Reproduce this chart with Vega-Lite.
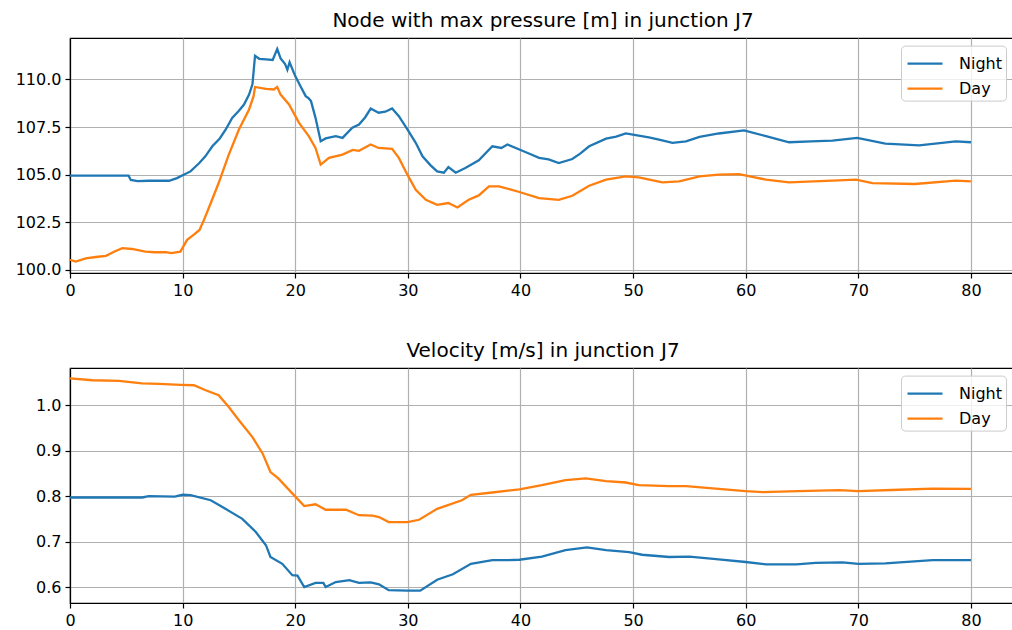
{
  "$schema": "https://vega.github.io/schema/vega-lite/v6.json",
  "padding": {"left": 14, "top": 10, "right": 0, "bottom": 0},
  "background": "white",
  "config": {
    "font": "DejaVu Sans",
    "view": {"stroke": "black", "strokeWidth": 1.2},
    "axis": {
      "grid": true, "gridColor": "#b0b0b0", "gridWidth": 1.2,
      "domainColor": "black", "domainWidth": 1.2,
      "tickColor": "black", "tickSize": 5, "tickWidth": 1.2,
      "labelColor": "black", "labelFont": "DejaVu Sans", "labelFontSize": 16,
      "labelPadding": 4, "labelFlush": false, "labelOverlap": false, "labelBound": false,
      "title": null
    },
    "title": {"font": "DejaVu Sans", "fontSize": 20, "fontWeight": "normal", "color": "black", "anchor": "middle", "offset": 7},
    "legend": {
      "fillColor": "rgba(255,255,255,0.8)", "strokeColor": "#cccccc", "cornerRadius": 4,
      "padding": 4, "symbolType": "M-1.4,0H1.4", "symbolSize": 625, "symbolStrokeWidth": 2.5,
      "symbolOffset": 6,
      "labelFont": "DejaVu Sans", "labelFontSize": 16, "labelColor": "black", "labelOffset": 20,
      "rowPadding": 3, "title": null
    },
    "line": {"strokeWidth": 2.3}
  },
  "datasets": {
    "pressure": [
      {"t":0,"series":"Night","v":104.95},{"t":5.2,"series":"Night","v":104.95},{"t":5.4,"series":"Night","v":104.72},{"t":6.0,"series":"Night","v":104.66},{"t":7.0,"series":"Night","v":104.68},{"t":8.0,"series":"Night","v":104.68},{"t":8.8,"series":"Night","v":104.68},{"t":9.5,"series":"Night","v":104.82},{"t":10.0,"series":"Night","v":104.97},{"t":10.7,"series":"Night","v":105.17},{"t":11.46,"series":"Night","v":105.6},{"t":12.0,"series":"Night","v":105.95},{"t":12.64,"series":"Night","v":106.49},{"t":13.3,"series":"Night","v":106.9},{"t":13.83,"series":"Night","v":107.37},{"t":14.4,"series":"Night","v":107.98},{"t":15.0,"series":"Night","v":108.35},{"t":15.45,"series":"Night","v":108.68},{"t":15.9,"series":"Night","v":109.2},{"t":16.2,"series":"Night","v":109.74},{"t":16.43,"series":"Night","v":111.23},{"t":16.8,"series":"Night","v":111.08},{"t":17.4,"series":"Night","v":111.05},{"t":18.0,"series":"Night","v":111.02},{"t":18.4,"series":"Night","v":111.6},{"t":18.7,"series":"Night","v":111.1},{"t":19.1,"series":"Night","v":110.8},{"t":19.3,"series":"Night","v":110.5},{"t":19.5,"series":"Night","v":110.9},{"t":20.0,"series":"Night","v":110.17},{"t":20.5,"series":"Night","v":109.6},{"t":20.93,"series":"Night","v":109.12},{"t":21.2,"series":"Night","v":109.0},{"t":21.4,"series":"Night","v":108.86},{"t":21.8,"series":"Night","v":107.98},{"t":22.26,"series":"Night","v":106.75},{"t":22.7,"series":"Night","v":106.9},{"t":23.6,"series":"Night","v":107.02},{"t":24.2,"series":"Night","v":106.93},{"t":25.07,"series":"Night","v":107.46},{"t":25.66,"series":"Night","v":107.63},{"t":26.2,"series":"Night","v":108.0},{"t":26.7,"series":"Night","v":108.47},{"t":27.4,"series":"Night","v":108.25},{"t":28.0,"series":"Night","v":108.3},{"t":28.6,"series":"Night","v":108.47},{"t":29.2,"series":"Night","v":108.07},{"t":29.96,"series":"Night","v":107.37},{"t":30.7,"series":"Night","v":106.67},{"t":31.3,"series":"Night","v":105.96},{"t":32.0,"series":"Night","v":105.5},{"t":32.6,"series":"Night","v":105.17},{"t":33.2,"series":"Night","v":105.1},{"t":33.6,"series":"Night","v":105.4},{"t":34.25,"series":"Night","v":105.1},{"t":35.1,"series":"Night","v":105.35},{"t":36.3,"series":"Night","v":105.75},{"t":37.5,"series":"Night","v":106.49},{"t":38.3,"series":"Night","v":106.4},{"t":38.84,"series":"Night","v":106.58},{"t":39.9,"series":"Night","v":106.32},{"t":40.8,"series":"Night","v":106.1},{"t":41.65,"series":"Night","v":105.88},{"t":42.5,"series":"Night","v":105.8},{"t":43.4,"series":"Night","v":105.61},{"t":44.6,"series":"Night","v":105.82},{"t":45.3,"series":"Night","v":106.1},{"t":46.1,"series":"Night","v":106.49},{"t":47.6,"series":"Night","v":106.89},{"t":48.5,"series":"Night","v":107.0},{"t":49.35,"series":"Night","v":107.16},{"t":50.5,"series":"Night","v":107.05},{"t":51.4,"series":"Night","v":106.95},{"t":52.3,"series":"Night","v":106.84},{"t":53.5,"series":"Night","v":106.67},{"t":54.7,"series":"Night","v":106.75},{"t":55.9,"series":"Night","v":106.98},{"t":57.6,"series":"Night","v":107.16},{"t":59.85,"series":"Night","v":107.32},{"t":61.8,"series":"Night","v":107.02},{"t":63.85,"series":"Night","v":106.7},{"t":65.8,"series":"Night","v":106.75},{"t":67.7,"series":"Night","v":106.79},{"t":69.9,"series":"Night","v":106.93},{"t":72.4,"series":"Night","v":106.63},{"t":75.4,"series":"Night","v":106.54},{"t":78.65,"series":"Night","v":106.75},{"t":80.0,"series":"Night","v":106.7},
      {"t":0,"series":"Day","v":100.53},{"t":0.5,"series":"Day","v":100.44},{"t":1.4,"series":"Day","v":100.61},{"t":2.3,"series":"Day","v":100.68},{"t":3.2,"series":"Day","v":100.74},{"t":4.0,"series":"Day","v":100.98},{"t":4.65,"series":"Day","v":101.14},{"t":5.5,"series":"Day","v":101.1},{"t":6.7,"series":"Day","v":100.96},{"t":7.5,"series":"Day","v":100.93},{"t":8.5,"series":"Day","v":100.93},{"t":9.0,"series":"Day","v":100.88},{"t":9.8,"series":"Day","v":100.96},{"t":10.4,"series":"Day","v":101.58},{"t":11.0,"series":"Day","v":101.85},{"t":11.5,"series":"Day","v":102.1},{"t":11.9,"series":"Day","v":102.63},{"t":12.5,"series":"Day","v":103.51},{"t":13.2,"series":"Day","v":104.56},{"t":14.1,"series":"Day","v":106.05},{"t":15.0,"series":"Day","v":107.37},{"t":15.9,"series":"Day","v":108.42},{"t":16.3,"series":"Day","v":109.12},{"t":16.43,"series":"Day","v":109.6},{"t":17.4,"series":"Day","v":109.5},{"t":18.1,"series":"Day","v":109.47},{"t":18.4,"series":"Day","v":109.6},{"t":18.7,"series":"Day","v":109.2},{"t":19.45,"series":"Day","v":108.68},{"t":20.34,"series":"Day","v":107.72},{"t":21.2,"series":"Day","v":107.02},{"t":21.8,"series":"Day","v":106.4},{"t":22.26,"series":"Day","v":105.53},{"t":23.0,"series":"Day","v":105.88},{"t":24.2,"series":"Day","v":106.05},{"t":25.1,"series":"Day","v":106.3},{"t":25.66,"series":"Day","v":106.25},{"t":26.7,"series":"Day","v":106.58},{"t":27.4,"series":"Day","v":106.4},{"t":28.6,"series":"Day","v":106.35},{"t":29.2,"series":"Day","v":105.88},{"t":29.96,"series":"Day","v":105.0},{"t":30.7,"series":"Day","v":104.21},{"t":31.6,"series":"Day","v":103.68},{"t":32.6,"series":"Day","v":103.42},{"t":33.6,"series":"Day","v":103.51},{"t":34.4,"series":"Day","v":103.28},{"t":35.4,"series":"Day","v":103.68},{"t":36.3,"series":"Day","v":103.91},{"t":37.2,"series":"Day","v":104.39},{"t":38.1,"series":"Day","v":104.39},{"t":39.9,"series":"Day","v":104.09},{"t":41.65,"series":"Day","v":103.77},{"t":43.4,"series":"Day","v":103.68},{"t":44.6,"series":"Day","v":103.89},{"t":46.1,"series":"Day","v":104.42},{"t":47.6,"series":"Day","v":104.74},{"t":49.35,"series":"Day","v":104.91},{"t":50.5,"series":"Day","v":104.86},{"t":52.6,"series":"Day","v":104.6},{"t":54.1,"series":"Day","v":104.65},{"t":55.9,"series":"Day","v":104.91},{"t":57.6,"series":"Day","v":105.0},{"t":59.4,"series":"Day","v":105.03},{"t":61.8,"series":"Day","v":104.74},{"t":63.85,"series":"Day","v":104.6},{"t":67.7,"series":"Day","v":104.69},{"t":69.8,"series":"Day","v":104.74},{"t":71.25,"series":"Day","v":104.56},{"t":75.0,"series":"Day","v":104.51},{"t":78.65,"series":"Day","v":104.69},{"t":80.0,"series":"Day","v":104.65}
    ],
    "velocity": [
      {"t":0,"series":"Night","v":0.797},{"t":6.4,"series":"Night","v":0.797},{"t":7.0,"series":"Night","v":0.8},{"t":9.3,"series":"Night","v":0.799},{"t":10.0,"series":"Night","v":0.803},{"t":10.7,"series":"Night","v":0.802},{"t":12.5,"series":"Night","v":0.791},{"t":13.8,"series":"Night","v":0.772},{"t":15.3,"series":"Night","v":0.75},{"t":16.5,"series":"Night","v":0.721},{"t":17.4,"series":"Night","v":0.692},{"t":17.8,"series":"Night","v":0.666},{"t":18.85,"series":"Night","v":0.651},{"t":19.74,"series":"Night","v":0.626},{"t":20.2,"series":"Night","v":0.625},{"t":20.8,"series":"Night","v":0.6},{"t":21.8,"series":"Night","v":0.609},{"t":22.5,"series":"Night","v":0.609},{"t":22.7,"series":"Night","v":0.6},{"t":23.6,"series":"Night","v":0.611},{"t":24.8,"series":"Night","v":0.615},{"t":25.66,"series":"Night","v":0.609},{"t":26.7,"series":"Night","v":0.61},{"t":27.44,"series":"Night","v":0.606},{"t":28.3,"series":"Night","v":0.593},{"t":29.96,"series":"Night","v":0.592},{"t":31.1,"series":"Night","v":0.592},{"t":32.6,"series":"Night","v":0.616},{"t":34.0,"series":"Night","v":0.628},{"t":35.6,"series":"Night","v":0.651},{"t":37.5,"series":"Night","v":0.659},{"t":38.7,"series":"Night","v":0.659},{"t":39.9,"series":"Night","v":0.66},{"t":41.9,"series":"Night","v":0.667},{"t":44.0,"series":"Night","v":0.681},{"t":45.9,"series":"Night","v":0.687},{"t":47.6,"series":"Night","v":0.681},{"t":49.65,"series":"Night","v":0.677},{"t":50.8,"series":"Night","v":0.671},{"t":53.2,"series":"Night","v":0.666},{"t":55.0,"series":"Night","v":0.667},{"t":57.6,"series":"Night","v":0.661},{"t":60.0,"series":"Night","v":0.655},{"t":61.8,"series":"Night","v":0.65},{"t":64.5,"series":"Night","v":0.65},{"t":66.2,"series":"Night","v":0.653},{"t":68.6,"series":"Night","v":0.654},{"t":70.0,"series":"Night","v":0.651},{"t":72.4,"series":"Night","v":0.652},{"t":76.6,"series":"Night","v":0.659},{"t":80.0,"series":"Night","v":0.659},
      {"t":0,"series":"Day","v":1.059},{"t":2.0,"series":"Day","v":1.055},{"t":4.35,"series":"Day","v":1.0535},{"t":6.4,"series":"Day","v":1.048},{"t":7.9,"series":"Day","v":1.047},{"t":9.85,"series":"Day","v":1.045},{"t":11.0,"series":"Day","v":1.044},{"t":12.05,"series":"Day","v":1.033},{"t":13.2,"series":"Day","v":1.022},{"t":14.1,"series":"Day","v":0.996},{"t":15.0,"series":"Day","v":0.967},{"t":16.2,"series":"Day","v":0.93},{"t":17.1,"series":"Day","v":0.894},{"t":17.8,"series":"Day","v":0.853},{"t":18.5,"series":"Day","v":0.839},{"t":19.74,"series":"Day","v":0.806},{"t":20.8,"series":"Day","v":0.778},{"t":21.8,"series":"Day","v":0.782},{"t":22.7,"series":"Day","v":0.77},{"t":24.5,"series":"Day","v":0.77},{"t":25.66,"series":"Day","v":0.758},{"t":26.85,"series":"Day","v":0.757},{"t":27.44,"series":"Day","v":0.754},{"t":28.3,"series":"Day","v":0.743},{"t":29.96,"series":"Day","v":0.743},{"t":31.0,"series":"Day","v":0.748},{"t":32.6,"series":"Day","v":0.772},{"t":34.8,"series":"Day","v":0.791},{"t":35.6,"series":"Day","v":0.803},{"t":37.5,"series":"Day","v":0.808},{"t":39.9,"series":"Day","v":0.815},{"t":41.9,"series":"Day","v":0.824},{"t":44.0,"series":"Day","v":0.835},{"t":45.8,"series":"Day","v":0.839},{"t":47.6,"series":"Day","v":0.833},{"t":49.35,"series":"Day","v":0.83},{"t":50.5,"series":"Day","v":0.824},{"t":53.2,"series":"Day","v":0.822},{"t":54.7,"series":"Day","v":0.822},{"t":57.6,"series":"Day","v":0.816},{"t":60.0,"series":"Day","v":0.811},{"t":61.5,"series":"Day","v":0.809},{"t":64.7,"series":"Day","v":0.811},{"t":68.3,"series":"Day","v":0.813},{"t":70.0,"series":"Day","v":0.811},{"t":73.6,"series":"Day","v":0.814},{"t":76.6,"series":"Day","v":0.8165},{"t":80.0,"series":"Day","v":0.816}
    ]
  },
  "vconcat": [
    {
      "title": "Node with max pressure [m] in junction J7",
      "width": 946, "height": 235,
      "data": {"name": "pressure"},
      "mark": {"type": "line", "clip": true},
      "encoding": {
        "x": {"field": "t", "type": "quantitative", "scale": {"domain": [0, 84], "nice": false, "zero": false},
              "axis": {"values": [0,10,20,30,40,50,60,70,80], "format": "d"}},
        "y": {"field": "v", "type": "quantitative", "scale": {"domain": [99.84, 112.17], "nice": false, "zero": false},
              "axis": {"values": [100, 102.5, 105, 107.5, 110], "format": ".1f"}},
        "color": {"field": "series", "type": "nominal",
                  "scale": {"domain": ["Night", "Day"], "range": ["#1f77b4", "#ff7f0e"]},
                  "legend": {"title": null, "orient": "none", "legendX": 831, "legendY": 7.6}}
      }
    },
    {
      "title": "Velocity [m/s] in junction J7",
      "width": 946, "height": 235,
      "data": {"name": "velocity"},
      "mark": {"type": "line", "clip": true},
      "encoding": {
        "x": {"field": "t", "type": "quantitative", "scale": {"domain": [0, 84], "nice": false, "zero": false},
              "axis": {"values": [0,10,20,30,40,50,60,70,80], "format": "d"}},
        "y": {"field": "v", "type": "quantitative", "scale": {"domain": [0.5648, 1.082], "nice": false, "zero": false},
              "axis": {"values": [0.6, 0.7, 0.8, 0.9, 1.0], "format": ".1f"}},
        "color": {"field": "series", "type": "nominal",
                  "scale": {"domain": ["Night", "Day"], "range": ["#1f77b4", "#ff7f0e"]},
                  "legend": {"title": null, "orient": "none", "legendX": 831, "legendY": 7.6}}
      }
    }
  ],
  "spacing": 41,
  "resolve": {"legend": {"color": "independent"}}
}
